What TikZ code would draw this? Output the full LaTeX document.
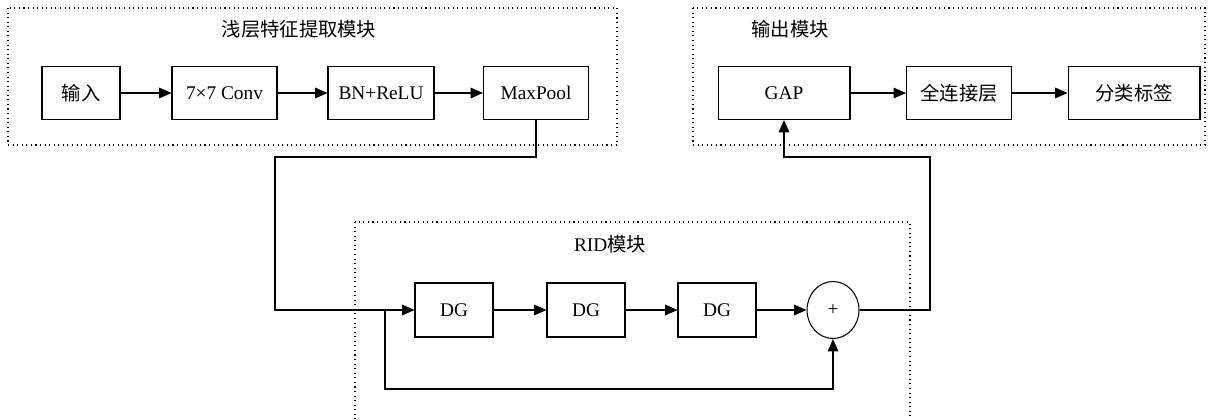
\documentclass[tikz,border=0pt]{standalone}
\usepackage{fontspec}
\setmainfont{Liberation Serif}
\newfontfamily\cjk{Noto Sans CJK SC}
\usetikzlibrary{arrows.meta,shapes.geometric}

\tikzset{
  blk/.style={draw,line width=0.6pt,minimum height=1.06cm,inner sep=0pt},
  frame/.style={dotted,line width=0.6pt},
  arr/.style={line width=0.6pt,-{Triangle[length=7pt,width=6pt]}}
}

\begin{document}
\begin{tikzpicture}[x=0.02cm,y=-0.02cm,font=\fontsize{11}{13}\selectfont]
\useasboundingbox (0,0) rectangle (1212,419);

% module frames
\draw[frame] (8,8) rectangle (617,145);
\draw[frame] (693,8) rectangle (1205,145);
\draw[frame] (355,222) rectangle (910,430);
\node (t_shallow) at (299,29) {\cjk 浅层特征提取模块};
\node (t_out) at (790,29) {\cjk 输出模块};
\node (t_rid) at (610,244) {RID\cjk 模块};

% shallow feature module
\node[blk,minimum width=1.56cm] (in) at (81,93) {\cjk 输入};
\node[blk,minimum width=2.1cm] (conv) at (224.5,93) {7×7 Conv};
\node[blk,minimum width=2.12cm] (bn) at (381,93) {BN+ReLU};
\node[blk,minimum width=2.1cm] (mp) at (536,93) {MaxPool};

% output module
\node[blk,minimum width=2.64cm] (gap) at (784,93) {GAP};
\node[blk,minimum width=2.1cm] (fc) at (959,93) {\cjk 全连接层};
\node[blk,minimum width=2.64cm] (cls) at (1134,93) {\cjk 分类标签};

% RID module
\node[blk,minimum width=1.56cm,minimum height=1.08cm] (dg1) at (454,310) {DG};
\node[blk,minimum width=1.56cm,minimum height=1.08cm] (dg2) at (586,310) {DG};
\node[blk,minimum width=1.56cm,minimum height=1.08cm] (dg3) at (717,310) {DG};
\node[draw,ellipse,line width=0.6pt,minimum width=1.04cm,minimum height=1.14cm,inner sep=0pt] (sum) at (833,310) {+};

\coordinate (t1) at (275,157);
\coordinate (split) at (385,310);
\coordinate (skip) at (385,389);
\coordinate (t2) at (930,157);

\draw[arr] (in) -- (conv);
\draw[arr] (conv) -- (bn);
\draw[arr] (bn) -- (mp);
\draw[arr] (mp.south) |- (t1) |- (dg1.west);
\draw[arr] (dg1) -- (dg2);
\draw[arr] (dg2) -- (dg3);
\draw[arr] (dg3) -- (sum);
\draw[arr] (split) -- (skip) -| (sum.south);
\draw[arr] (sum.east) -| (t2) -| (gap.south);
\draw[arr] (gap) -- (fc);
\draw[arr] (fc) -- (cls);
\end{tikzpicture}
\end{document}
